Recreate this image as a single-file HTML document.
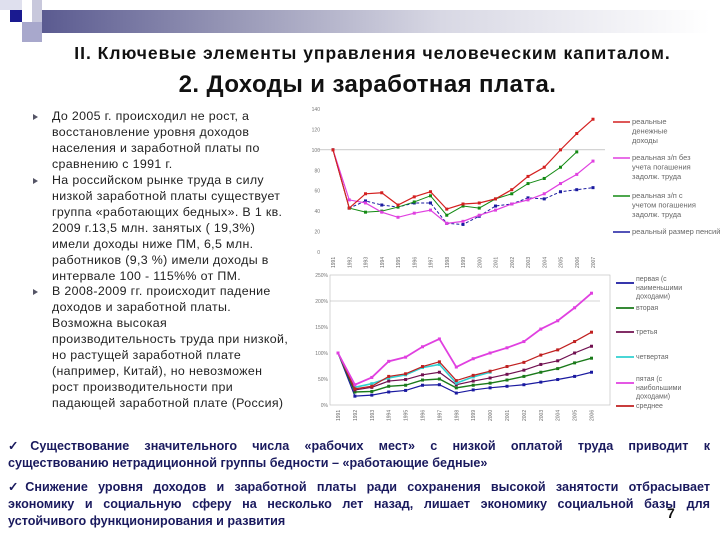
<!DOCTYPE html>
<html><head><meta charset="utf-8">
<style>
body{margin:0;width:720px;height:540px;background:#fff;position:relative;overflow:hidden;font-family:"Liberation Sans",sans-serif}
.abs{position:absolute}
#title1{left:0;width:745px;top:43px;text-align:center;font-weight:bold;font-size:17.5px;letter-spacing:1.0px;color:#111;white-space:nowrap}
#title2{left:0;width:735px;top:71px;text-align:center;font-weight:bold;font-size:24px;letter-spacing:0.4px;color:#111}
#bullets{left:33px;top:109px;width:280px;font-size:12.4px;line-height:15.95px;color:#222;white-space:nowrap;letter-spacing:0.35px}
.b{position:relative;padding-left:19px}
.b:before{content:"";position:absolute;left:0;top:5px;border-left:5px solid #556;border-top:3px solid transparent;border-bottom:3px solid transparent}
#bottom{left:8px;top:438px;width:702px;font-weight:bold;font-size:12.6px;line-height:17px;color:#1a1a5e}
.j{text-align:justify;text-align-last:justify;white-space:nowrap}
.l{text-align:left;white-space:nowrap}
.gap{height:7px}
</style></head><body>
<div class="abs" style="left:40px;top:10px;width:670px;height:23px;background:linear-gradient(90deg,#5a5a90,#9a9ab8 30%,#d8d8e4 60%,#fff)"></div>
<div class="abs" style="left:0;top:0;width:22px;height:10px;background:#dfe0ee"></div>
<div class="abs" style="left:10px;top:10px;width:12px;height:12px;background:#1a1a90"></div>
<div class="abs" style="left:22px;top:22px;width:20px;height:20px;background:#a8a8cc"></div>
<div class="abs" style="left:32px;top:0;width:10px;height:22px;background:#c8c8dc"></div>
<div class="abs" id="title1">II. Ключевые элементы управления человеческим капиталом.</div>
<div class="abs" id="title2">2. Доходы и заработная плата.</div>
<div class="abs" id="bullets">
<div class="b">До 2005 г. происходил не рост, а<br>восстановление уровня доходов<br>населения и заработной платы по<br>сравнению с 1991 г.</div>
<div class="b">На российском рынке труда в силу<br>низкой заработной платы существует<br>группа «работающих бедных». В 1 кв.<br>2009 г.13,5 млн. занятых ( 19,3%)<br>имели доходы ниже ПМ, 6,5 млн.<br>работников (9,3 %) имели доходы в<br>интервале 100 - 115%% от ПМ.</div>
<div class="b">В 2008-2009 гг. происходит падение<br>доходов и заработной платы.<br>Возможна высокая<br>производительность труда при низкой,<br>но растущей заработной плате<br>(например, Китай), но невозможен<br>рост производительности при<br>падающей заработной плате (Россия)</div>
</div>
<svg class="abs" id="svg" style="left:0;top:0" width="720" height="540"></svg>
<div class="abs" id="bottom">
<div>
<div class="j">✓Существование значительного числа «рабочих мест» с низкой оплатой труда приводит к</div>
<div class="l">существованию нетрадиционной группы бедности – «работающие бедные»</div></div>
<div class="gap"></div>
<div>
<div class="j">✓Снижение уровня доходов и заработной платы ради сохранения высокой занятости отбрасывает</div>
<div class="j">экономику и социальную сферу на несколько лет назад, лишает экономику социальной базы для</div>
<div class="l">устойчивого функционирования и развития</div></div>
</div>
<div class="abs" style="left:667px;top:505px;font-weight:bold;font-size:14px;color:#111">7</div>
<script>
// top chart data
const topYears=["1991","1992","1993","1994","1995","1996","1997","1998","1999","2000","2001","2002","2003","2004","2005","2006","2007"];
const topTicks=[0,20,40,60,80,100,120,140];
const realIncome=[100,43,57,58,46,54,59,42,47,48,52,61,74,83,100,116,130];
const wageNoArrears=[100,51,48,39,34,38,41,28,30,36,41,47,51,57,67,76,89];
const wageArrears=[100,43,39,40,44,49,55,36,45,43,52,57,67,72,83,98];
const pensions=[100,43,50,46,44,48,48,28,27,35,45,47,53,52,59,61,63];
const topLegend=[["реальные","денежные","доходы"],["реальная з/п без","учета погашения","задолж. труда"],["реальная з/п с","учетом погашения","задолж. труда"],["реальный размер пенсий"]];
// bottom chart data
const botYears=["1991","1992","1993","1994","1995","1996","1997","1998","1999","2000","2001","2002","2003","2004","2005","2006"];
const botTicks=[0,50,100,150,200,250];
const q1=[100,17,19,25,28,38,39,23,29,33,36,39,44,49,55,63];
const q2=[100,25,26,36,38,48,50,33,38,42,48,55,63,70,81,90];
const q3=[100,29,34,46,49,58,63,39,46,52,59,67,78,85,100,113];
const q4=[100,34,41,52,58,72,78,42,54,63];
const q5=[100,39,53,84,92,112,127,73,89,100,110,122,146,162,187,215];
const avg=[100,31,36,55,60,74,83,47,57,65,74,82,96,106,122,140];
const botLegend=[["первая (с","наименьшими","доходами)"],["вторая"],["третья"],["четвертая"],["пятая (с","наибольшими","доходами)"],["среднее"]];

const svg=document.getElementById('svg');const NS='http://www.w3.org/2000/svg';
function mk(t,a,txt){const e=document.createElementNS(NS,t);for(const k in a)e.setAttribute(k,a[k]);if(txt!=null)e.textContent=txt;svg.appendChild(e);return e;}
function multi(x,y,lines,size){const e=mk('text',{x:x,y:y,'font-size':size,fill:'#666'});
 lines.forEach((l,i)=>{const s=document.createElementNS(NS,'tspan');s.setAttribute('x',x);s.setAttribute('dy',i?size*1.25:0);s.textContent=l;e.appendChild(s);});return e;}
// top axes
const tx=i=>333+i*16.25, ty=v=>252-v*1.0214;
topTicks.forEach(v=>{const e=mk('text',{x:320,y:ty(v)+2,'font-size':5,fill:'#777','text-anchor':'end'},v);
});
const g1=mk('line',{x1:318,x2:605,y1:ty(100),y2:ty(100),stroke:'#aaa','stroke-width':0.6});

topYears.forEach((y,i)=>{const e=mk('text',{transform:`translate(${tx(i)+2},${268}) rotate(-90)`,'font-size':5,fill:'#666'},y);
});
function series(arr,xf,yf,col,w,dash,name){
 const pts=arr.map((v,i)=>xf(i)+','+yf(v)).join(' ');
 const p=mk('polyline',{points:pts,fill:'none',stroke:col,'stroke-width':w,'stroke-dasharray':dash||'none'});
 
 arr.forEach((v,i)=>{const m=mk('rect',{x:xf(i)-1.5,y:yf(v)-1.5,width:3,height:3,fill:col});
 });
}
series(pensions,tx,ty,'#1a1aa0',1,'3,2','series-pensions');
series(wageArrears,tx,ty,'#138a13',1,null,'series-wage-arrears');
series(wageNoArrears,tx,ty,'#e040e0',1.2,null,'series-wage-no-arrears');
series(realIncome,tx,ty,'#d42020',1.2,null,'series-real-income');
const topCols=['#d42020','#e040e0','#138a13','#1a1aa0'];const topLY=[122,158,196,232];
topLegend.forEach((t,i)=>{const l=mk('line',{x1:613,x2:630,y1:topLY[i],y2:topLY[i],stroke:topCols[i],'stroke-width':1.5});

const e=multi(632,topLY[i]+2,t,7.5);
});
// bottom axes
const bx=i=>338+i*16.9, by=v=>405-v*0.52;
const frame=mk('rect',{x:330,y:275,width:280,height:130,fill:'none',stroke:'#bbb','stroke-width':0.6});

botTicks.forEach(v=>{const e=mk('text',{x:328,y:by(v)+2,'font-size':5,fill:'#777','text-anchor':'end'},v+'%');
});
const g2=mk('line',{x1:330,x2:600,y1:by(200),y2:by(200),stroke:'#aaa','stroke-width':0.6});

botYears.forEach((y,i)=>{const e=mk('text',{transform:`translate(${bx(i)+2},${421}) rotate(-90)`,'font-size':5,fill:'#666'},y);
});
series(q1,bx,by,'#1a1aa0',1.2,null,'series-quintile-1');
series(q2,bx,by,'#1a7a1a',1.4,null,'series-quintile-2');
series(q3,bx,by,'#701050',1.2,null,'series-quintile-3');
series(q4,bx,by,'#30d0d0',1.6,null,'series-quintile-4');
series(avg,bx,by,'#c02020',1.2,null,'series-average');
series(q5,bx,by,'#e040e0',1.8,null,'series-quintile-5');
const botCols=['#1a1aa0','#1a7a1a','#701050','#30d0d0','#e040e0','#c02020'];const botLY=[283,308,332,357,383,406];
botLegend.forEach((t,i)=>{const l=mk('line',{x1:616,x2:634,y1:botLY[i],y2:botLY[i],stroke:botCols[i],'stroke-width':1.8});

const e=multi(636,botLY[i]+(t.length>1?-2:2),t,7);
});
</script>
</body></html>
